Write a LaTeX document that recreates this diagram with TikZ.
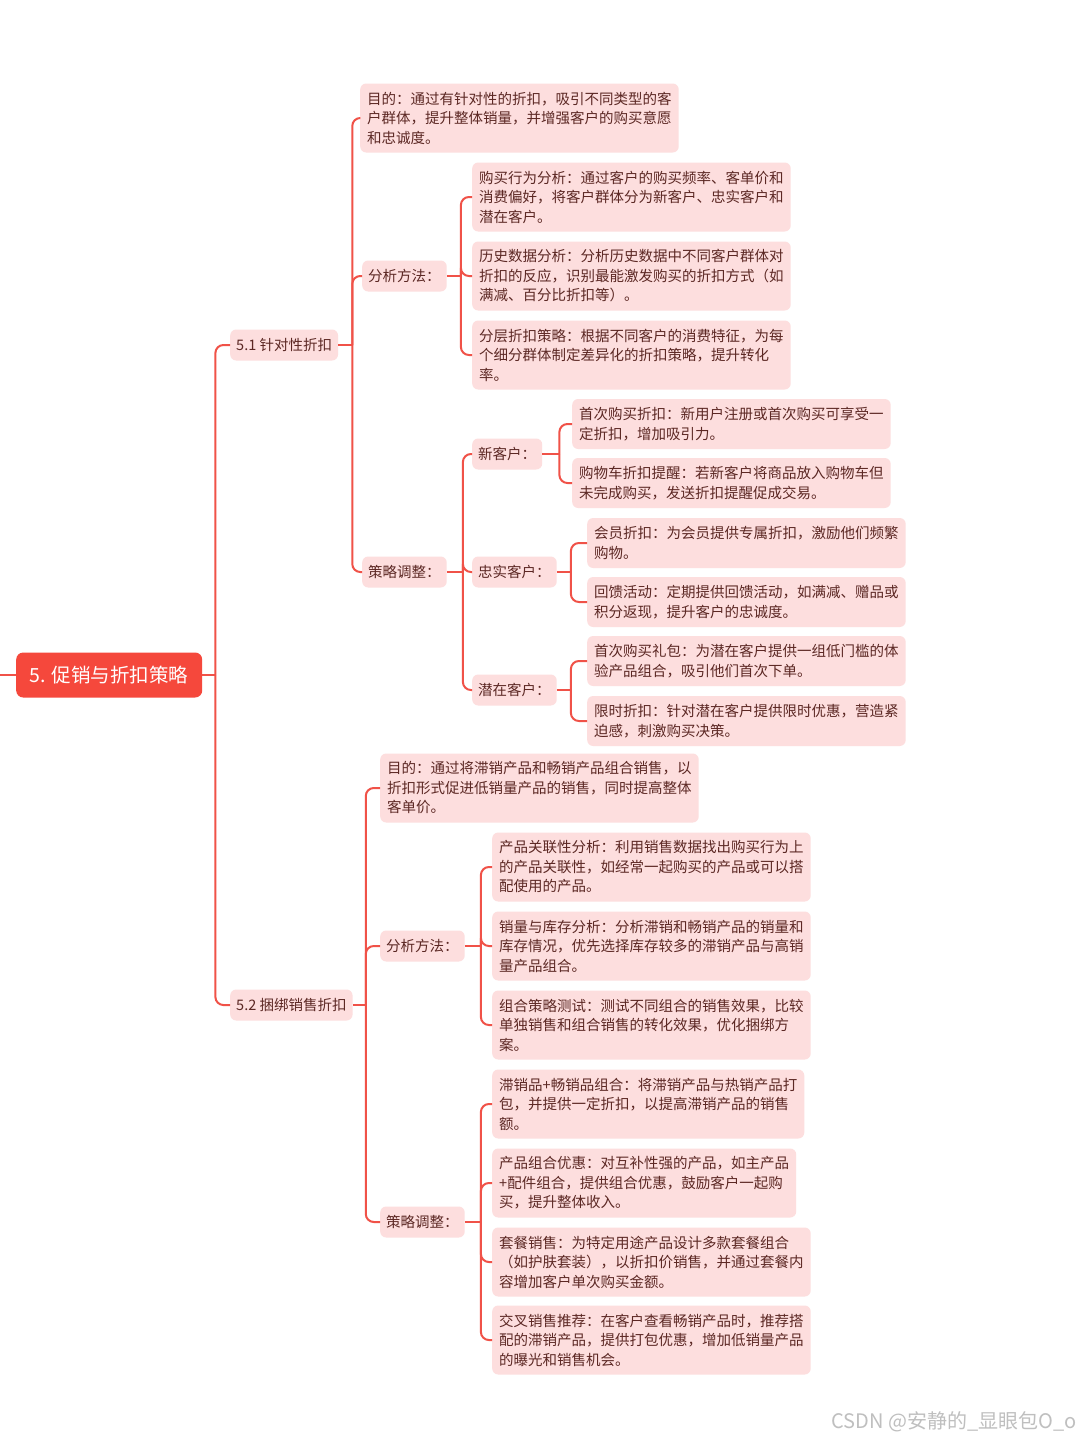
\documentclass[tikz,border=0pt]{standalone}
\usepackage{fontspec}
\newfontfamily\cjk{Noto Sans CJK SC}
\definecolor{mapred}{RGB}{240,82,72}
\definecolor{rootred}{RGB}{245,72,60}
\definecolor{boxpink}{RGB}{253,222,222}
\definecolor{inkbrown}{RGB}{92,40,36}

\begin{document}
\begin{tikzpicture}[x=1pt,y=-1pt,
  link/.style={draw=mapred,line width=2pt,rounded corners=8pt},
  tag/.style={fill=boxpink,text=inkbrown,rounded corners=6pt,anchor=west,
    font=\cjk\fontsize{14.5}{19.5}\selectfont,inner xsep=6pt,minimum height=31pt},
  leaf/.style={tag,align=left,inner xsep=7pt},
  two/.style={leaf,minimum height=50pt},
  three/.style={leaf,minimum height=69pt}]
  \useasboundingbox[fill=white] (0,0) rectangle (1080,1440);

  \node[fill=rootred,text=white,rounded corners=7pt,anchor=west,minimum width=186pt,
    minimum height=45pt,font=\cjk\fontsize{19.5}{22}\selectfont] (root) at (16,675) {5. 促销与折扣策略};
  \node[tag] (s51) at (230,345) {5.1 针对性折扣};
  \node[tag] (s52) at (230,1005) {5.2 捆绑销售折扣};
  \coordinate (rin) at (0,675);
  \coordinate (jr) at ([xshift=13pt]root.east);
  \draw[link] (rin) -- (root.west);
  \draw[link] (root.east) -- (jr);
  \foreach \c in {s51,s52} \draw[link] (jr) |- (\c.west);

  \node[three] (g51) at (360,118) {目的：通过有针对性的折扣，吸引不同类型的客\\户群体，提升整体销量，并增强客户的购买意愿\\和忠诚度。};
  \node[tag] (a51) at (362,276) {分析方法：};
  \node[tag] (t51) at (362,572) {策略调整：};
  \coordinate (j51) at ([xshift=14pt]s51.east);
  \draw[link] (s51.east) -- (j51);
  \foreach \c in {g51,a51,t51} \draw[link] (j51) |- (\c.west);

  \foreach \n/\y/\txt in {
    a51a/197/{购买行为分析：通过客户的购买频率、客单价和\\消费偏好，将客户群体分为新客户、忠实客户和\\潜在客户。},
    a51b/276/{历史数据分析：分析历史数据中不同客户群体对\\折扣的反应，识别最能激发购买的折扣方式（如\\满减、百分比折扣等）。},
    a51c/355/{分层折扣策略：根据不同客户的消费特征，为每\\个细分群体制定差异化的折扣策略，提升转化\\率。}}
    \node[three] (\n) at (472,\y) {\txt};
  \coordinate (ja51) at ([xshift=14pt]a51.east);
  \draw[link] (a51.east) -- (ja51);
  \foreach \c in {a51a,a51b,a51c} \draw[link] (ja51) |- (\c.west);

  \node[tag] (nc) at (472,454) {新客户：};
  \node[tag] (lc) at (472,572) {忠实客户：};
  \node[tag] (pc) at (472,690) {潜在客户：};
  \coordinate (jt51) at ([xshift=16pt]t51.east);
  \draw[link] (t51.east) -- (jt51);
  \foreach \c in {nc,lc,pc} \draw[link] (jt51) |- (\c.west);

  \node[two] (nc1) at (572,424) {首次购买折扣：新用户注册或首次购买可享受一\\定折扣，增加吸引力。};
  \node[two] (nc2) at (572,483) {购物车折扣提醒：若新客户将商品放入购物车但\\未完成购买，发送折扣提醒促成交易。};
  \node[two] (lc1) at (587,543) {会员折扣：为会员提供专属折扣，激励他们频繁\\购物。};
  \node[two] (lc2) at (587,602) {回馈活动：定期提供回馈活动，如满减、赠品或\\积分返现，提升客户的忠诚度。};
  \node[two] (pc1) at (587,661) {首次购买礼包：为潜在客户提供一组低门槛的体\\验产品组合，吸引他们首次下单。};
  \node[two] (pc2) at (587,721) {限时折扣：针对潜在客户提供限时优惠，营造紧\\迫感，刺激购买决策。};
  \coordinate (jnc) at ([xshift=17pt]nc.east);
  \coordinate (jlc) at ([xshift=14pt]lc.east);
  \coordinate (jpc) at ([xshift=14pt]pc.east);
  \foreach \p/\a/\b in {nc/nc1/nc2,lc/lc1/lc2,pc/pc1/pc2} {
    \draw[link] (\p.east) -- (j\p);
    \draw[link] (j\p) |- (\a.west);
    \draw[link] (j\p) |- (\b.west);
  }

  \node[three] (g52) at (380,788) {目的：通过将滞销产品和畅销产品组合销售，以\\折扣形式促进低销量产品的销售，同时提高整体\\客单价。};
  \node[tag] (a52) at (380,946) {分析方法：};
  \node[tag] (t52) at (380,1222) {策略调整：};
  \coordinate (j52) at ([xshift=13pt]s52.east);
  \draw[link] (s52.east) -- (j52);
  \foreach \c in {g52,a52,t52} \draw[link] (j52) |- (\c.west);

  \foreach \n/\y/\txt in {
    a52a/867/{产品关联性分析：利用销售数据找出购买行为上\\的产品关联性，如经常一起购买的产品或可以搭\\配使用的产品。},
    a52b/946/{销量与库存分析：分析滞销和畅销产品的销量和\\库存情况，优先选择库存较多的滞销产品与高销\\量产品组合。},
    a52c/1025/{组合策略测试：测试不同组合的销售效果，比较\\单独销售和组合销售的转化效果，优化捆绑方\\案。}}
    \node[three] (\n) at (492,\y) {\txt};
  \coordinate (ja52) at ([xshift=16pt]a52.east);
  \draw[link] (a52.east) -- (ja52);
  \foreach \c in {a52a,a52b,a52c} \draw[link] (ja52) |- (\c.west);

  \foreach \n/\y/\txt in {
    t52a/1104/{滞销品+畅销品组合：将滞销产品与热销产品打\\包，并提供一定折扣，以提高滞销产品的销售\\额。},
    t52b/1183/{产品组合优惠：对互补性强的产品，如主产品\\+配件组合，提供组合优惠，鼓励客户一起购\\买，提升整体收入。},
    t52c/1262/{套餐销售：为特定用途产品设计多款套餐组合\\（如护肤套装），以折扣价销售，并通过套餐内\\容增加客户单次购买金额。},
    t52d/1340/{交叉销售推荐：在客户查看畅销产品时，推荐搭\\配的滞销产品，提供打包优惠，增加低销量产品\\的曝光和销售机会。}}
    \node[three] (\n) at (492,\y) {\txt};
  \coordinate (jt52) at ([xshift=16pt]t52.east);
  \draw[link] (t52.east) -- (jt52);
  \foreach \c in {t52a,t52b,t52c,t52d} \draw[link] (jt52) |- (\c.west);

  \node[anchor=west,text=black!25,font=\cjk\fontsize{20}{24}\selectfont] (wm) at (828,1422) {CSDN @安静的\_显眼包O\_o};
\end{tikzpicture}
\end{document}
